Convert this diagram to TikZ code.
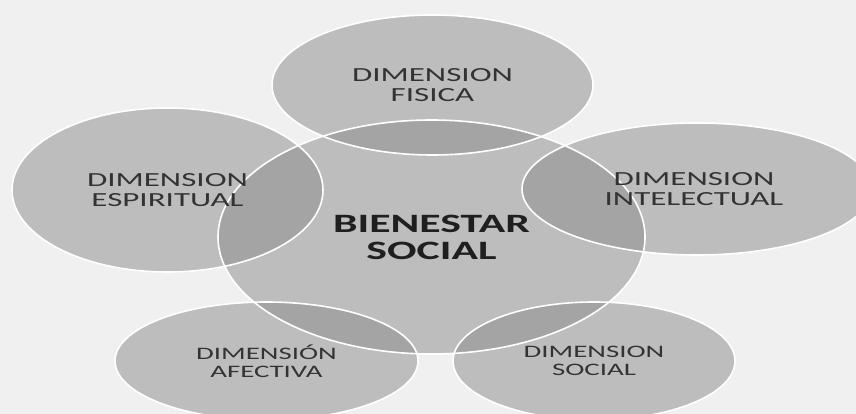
\documentclass[tikz,border=0pt]{standalone}
\usepackage{fontspec}
\newfontfamily\dimfont[FakeStretch=1.65]{Carlito}
\usetikzlibrary{shapes.geometric,calc}
\definecolor{fondo}{HTML}{F0F0F0}
\definecolor{relleno}{HTML}{8C8C8C}
\definecolor{letra}{HTML}{333333}

\begin{document}
\begin{tikzpicture}[
  x=1pt, y=-1pt,
  burbuja/.style={ellipse, fill=relleno, fill opacity=.5, inner sep=0pt, outer sep=0pt},
  borde/.style={draw=white, line width=1.6pt},
  etiqueta/.style={align=center, text=letra, font=\dimfont\fontsize{20}{20}\selectfont},
  chica/.style={align=center, text=letra, font=\dimfont\fontsize{17.5}{18}\selectfont},
  titulo/.style={align=center, text=black!88, font=\dimfont\bfseries\fontsize{26.5}{27}\selectfont}
  ]

  \useasboundingbox (0,0) rectangle (856,414);
  \fill[fondo] (0,0) rectangle (856,414);
  \clip (0,0) rectangle (856,414);

  % burbujas
  \node[burbuja, minimum width=427pt, minimum height=234pt] (soc) at (431.5,237) {};
  \node[burbuja, minimum width=321pt, minimum height=140pt] (fis) at (432.5,85) {};
  \node[burbuja, minimum width=311pt, minimum height=164pt] (esp) at (167.5,190) {};
  \node[burbuja, minimum width=350pt, minimum height=132pt] (int) at (697,189) {};
  \node[burbuja, minimum width=303pt, minimum height=118pt] (afe) at (266.5,361) {};
  \node[burbuja, minimum width=282pt, minimum height=118pt] (sod) at (594,361) {};

  % bordes blancos
  \foreach \b in {soc,fis,esp,int,afe,sod}
    \draw[borde] let \p1=(\b.east), \p2=(\b.north), \p3=(\b.center) in
      (\p3) ellipse [x radius=\x1-\x3, y radius=\y2-\y3];

  % textos
  \node[titulo] (t-soc) at (soc) {BIENESTAR\\SOCIAL};
  \node[etiqueta] (t-fis) at (fis) {DIMENSION\\FISICA};
  \node[etiqueta] (t-esp) at (esp) {DIMENSION\\ESPIRITUAL};
  \node[etiqueta] (t-int) at ([xshift=-3pt]int.center) {DIMENSION\\INTELECTUAL};
  \node[chica] (t-afe) at (afe) {DIMENSIÓN\\AFECTIVA};
  \node[chica] (t-sod) at (sod) {DIMENSION\\SOCIAL};

\end{tikzpicture}
\end{document}
